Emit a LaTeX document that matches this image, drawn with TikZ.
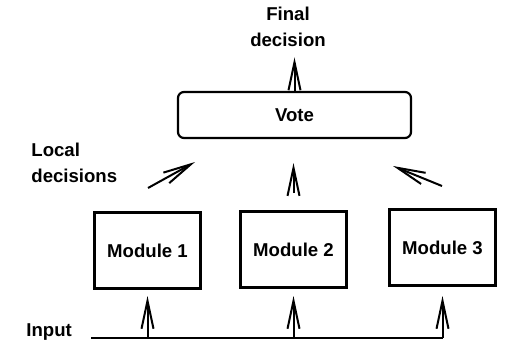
\documentclass[tikz,border=0pt]{standalone}
\usepackage{fontspec}
\setmainfont{Liberation Sans}
\usetikzlibrary{positioning,arrows.meta}
\tikzset{arr/.style={draw, line width=1pt, -{Straight Barb[length=14pt,width=6pt,line width=1pt]}}}
\tikzset{modbox/.style={draw, line width=1.4pt, minimum width=53pt, minimum height=38pt, inner sep=0pt}}
\tikzset{lbl/.style={align=left, inner sep=0pt}}

\begin{document}
\begin{tikzpicture}[x=0.5pt,y=-0.5pt,font=\fontsize{9.3}{13}\selectfont\bfseries]
\useasboundingbox (0,0) rectangle (513,342);
\begin{scope}[every node/.style={anchor=center}]
	\node[modbox] at (147.5,250.5) (m1) {Module 1};
	\node[modbox] at (293.5,249.5) (m2) {Module 2};
	\node[modbox] at (442.5,247.5) (m3) {Module 3};
	\node[draw, line width=1.1pt, rounded corners=3pt, minimum width=116.5pt, minimum height=23pt] at (294.5,115) (vote) {Vote};
\end{scope}
	\node[lbl, align=center, anchor=north] at (288,7) (fd) {Final\\decision};
	\node[lbl, anchor=north west] at (31,143) (ld) {Local\\decisions};
	\node[lbl, anchor=base west] at (26,336) (inp) {Input};

	% input bus
	\coordinate (in0) at (91,338);
	\coordinate (in1) at (443,338);
	\coordinate (tips) at (0,296);
	\draw[line width=1.1pt] (in0) -- (in1);
	\foreach \m in {m1,m2,m3}
		\draw[arr] (\m.south |- in0) -- (\m.south |- tips);

	% local decisions
	\draw[arr, shorten <=8.5pt, shorten >=12pt] (m2.north) -- (m2.north |- vote.south);
	\coordinate (l1s) at (148,188);
	\coordinate (l1e) at (195,162);
	\coordinate (l3s) at (442,186);
	\coordinate (l3e) at (393,166);
	\draw[arr] (l1s) -- (l1e);
	\draw[arr] (l3s) -- (l3e);
	\draw[arr, shorten >=5pt] (vote.north) -- (vote.north |- fd.south);
\end{tikzpicture}
\end{document}
